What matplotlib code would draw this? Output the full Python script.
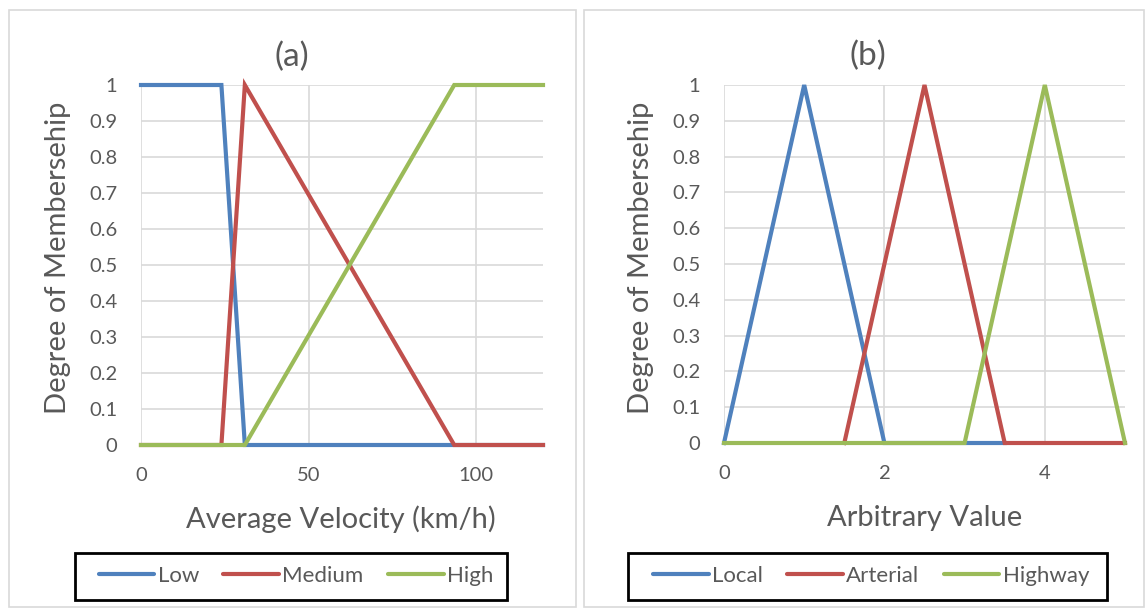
import matplotlib
matplotlib.use("Agg")
import matplotlib.pyplot as plt
from matplotlib.patches import Rectangle

plt.rcParams['font.family'] = ['Lato', 'DejaVu Sans']

# panel (a): velocity membership functions
vel_x = [0, 24, 31, 93.5, 120]
low = [1, 1, 0, 0, 0]
medium = [0, 0, 1, 0, 0]
high = [0, 0, 0, 1, 1]

# panel (b): road type membership functions
arb_x = [0, 1, 1.5, 2, 2.5, 3, 3.5, 4, 5]
local = [0, 1, None, 0, None, 0, 0, None, None]
arterial = [None, None, 0, None, 1, None, 0, None, 0]
highway = [0, None, None, None, None, 0, None, 1, 0]

yticks = [0, 0.1, 0.2, 0.3, 0.4, 0.5, 0.6, 0.7, 0.8, 0.9, 1]
ylabels = ['0', '0.1', '0.2', '0.3', '0.4', '0.5', '0.6', '0.7', '0.8', '0.9', '1']

BLUE, RED, GREEN = '#4F81BD', '#C0504D', '#9BBB59'
TXT, GRID = '#595959', '#D9D9D9'


def pts(xs, ys):
    px = [x for x, y in zip(xs, ys) if y is not None]
    py = [y for y in ys if y is not None]
    return px, py


W, H = 1145, 610
fig = plt.figure(figsize=(W / 100, H / 100), dpi=100)

# panel frames
for x0, x1 in [(9, 576), (584, 1144)]:
    fig.patches.append(Rectangle((x0 / W, 1 - 607 / H), (x1 - x0) / W, 597 / H,
                                 transform=fig.transFigure, fill=False,
                                 edgecolor=GRID, lw=1.2))

ax1 = fig.add_axes([141 / W, 1 - 445 / H, 402 / W, 360 / H])
ax2 = fig.add_axes([724 / W, 1 - 443 / H, 401 / W, 358 / H])

ax1.plot(*pts(vel_x, low), color=BLUE, lw=3, label='Low')
ax1.plot(*pts(vel_x, medium), color=RED, lw=3, label='Medium')
ax1.plot(*pts(vel_x, high), color=GREEN, lw=3, label='High')
ax1.set_xlim(0, 120)
ax1.set_xticks([0, 50, 100])

ax2.plot(*pts(arb_x, local), color=BLUE, lw=3, label='Local')
ax2.plot(*pts(arb_x, arterial), color=RED, lw=3, label='Arterial')
ax2.plot(*pts(arb_x, highway), color=GREEN, lw=3, label='Highway')
ax2.set_xlim(0, 5)
ax2.set_xticks([0, 2, 4])

# titles and axis labels (figure pixel positions)
fig.text(292 / W, 1 - 57 / H, '(a)', fontsize=24, color=TXT, ha='center', va='center')
fig.text(868 / W, 1 - 56 / H, '(b)', fontsize=24, color=TXT, ha='center', va='center')
fig.text(341 / W, 1 - 519 / H, 'Average Velocity (km/h)', fontsize=21, color=TXT,
         ha='center', va='center')
fig.text(925 / W, 1 - 518 / H, 'Arbitrary Value', fontsize=21, color=TXT,
         ha='center', va='center')
for yl_x in [58, 641]:
    fig.text(yl_x / W, 1 - 258 / H, 'Degree of Membersehip', fontsize=21, color=TXT,
             rotation=90, ha='center', va='center')

# legend boxes: (left, right, content centre x) in pixels
legend_boxes = [(75, 507, 296), (628, 1107, 871)]
for ax, (lx0, lx1, lcx) in zip([ax1, ax2], legend_boxes):
    ax.set_ylim(0, 1)
    ax.set_yticks(yticks)
    ax.set_yticklabels(ylabels)
    ax.tick_params(length=0, labelsize=14.5, colors=TXT)
    ax.tick_params(axis='y', pad=17)
    ax.tick_params(axis='x', pad=16)
    ax.grid(True, color=GRID, lw=1.2)
    ax.set_axisbelow(True)
    for s in ax.spines.values():
        s.set_visible(False)
    for line in ax.get_lines():
        line.set_clip_on(False)
        line.set_solid_joinstyle('miter')

    fig.patches.append(Rectangle((lx0 / W, 1 - 600 / H), (lx1 - lx0) / W, 47 / H,
                                 transform=fig.transFigure, fill=False,
                                 edgecolor='black', lw=2))
    leg = ax.legend(loc='center', ncol=3, fontsize=16,
                    bbox_to_anchor=(lcx / W, 1 - 576 / H),
                    bbox_transform=fig.transFigure, frameon=False,
                    handlelength=2.5, handletextpad=0.15, columnspacing=1.1)
    for h in leg.get_lines():
        h.set_solid_capstyle('round')
    for t in leg.get_texts():
        t.set_color(TXT)

fig.savefig('out.png', dpi=100)
